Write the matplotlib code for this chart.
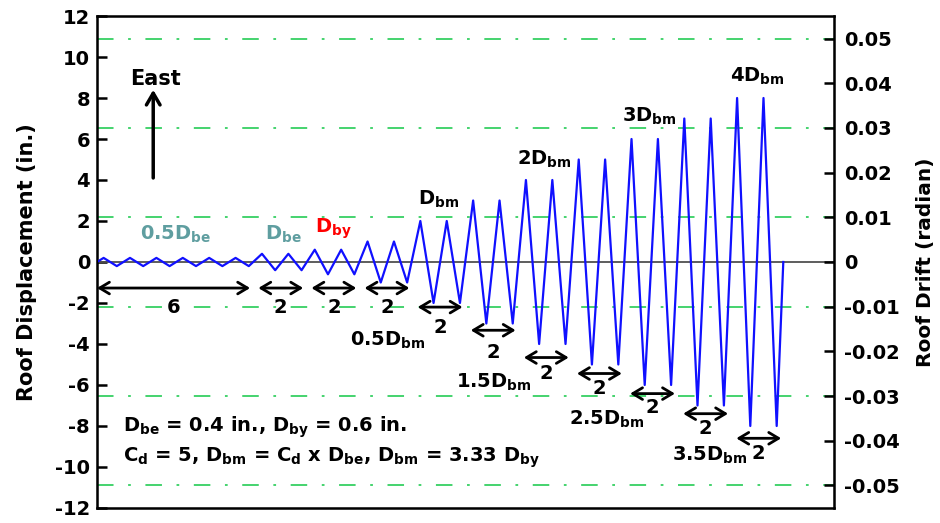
import numpy as np
import matplotlib
matplotlib.use("Agg")
import matplotlib.pyplot as plt

plt.rcParams["font.family"] = ["DejaVu Sans"]
plt.rcParams["font.weight"] = "bold"
plt.rcParams["mathtext.fontset"] = "dejavusans"
plt.rcParams["mathtext.default"] = "bf"

# loading protocol: amplitude steps (in.) and number of cycles per step
step_names = ["0.5$D_{be}$", "$D_{be}$", "$D_{by}$", "0.5$D_{bm}$", "$D_{bm}$", "1.5$D_{bm}$",
              "2$D_{bm}$", "2.5$D_{bm}$", "3$D_{bm}$", "3.5$D_{bm}$", "4$D_{bm}$"]
step_amps = [0.2, 0.4, 0.6, 1.0, 2.0, 3.0, 4.0, 5.0, 6.0, 7.0, 8.0]
step_cycles = [6, 2, 2, 2, 2, 2, 2, 2, 2, 2, 2]

roof_height = 218.0  # in.
drift_ticks = [-0.05, -0.04, -0.03, -0.02, -0.01, 0.0, 0.01, 0.02, 0.03, 0.04, 0.05]
drift_lines = [-0.05, -0.03, -0.01, 0.01, 0.03, 0.05]
disp_ticks = [-12, -10, -8, -6, -4, -2, 0, 2, 4, 6, 8, 10, 12]

# build the triangular displacement history
t = [0.0]
d = [0.0]
starts = []
n = 0
for amp, nc in zip(step_amps, step_cycles):
    starts.append(n)
    for i in range(nc):
        t += [n + 0.25, n + 0.75]
        d += [amp, -amp]
        n += 1
t.append(n)
d.append(0.0)

fig = plt.figure(figsize=(9.4, 5.23), dpi=100)
ax = fig.add_axes([0.1032, 0.0287, 0.784, 0.9407])

green = "#44d36e"
for dr in drift_lines:
    ax.axhline(dr * roof_height, color=green, lw=1.4,
               linestyle=(0, (8.5, 7.5, 1.4, 7.5)), zorder=1)
ax.axhline(0, color="#505050", lw=1.3, zorder=2)
ax.plot(t, d, color="#1010ff", lw=1.6, zorder=3)

ax.set_xlim(0, 27.92)
ax.set_ylim(-12, 12)
ax.set_xticks([])
ax.set_yticks(disp_ticks)
ax.set_yticklabels([str(v) for v in disp_ticks])
ax.tick_params(axis="y", direction="in", length=7, width=1.8, pad=5, labelsize=14)
for s in ax.spines.values():
    s.set_linewidth(1.8)
ax.set_ylabel("Roof Displacement (in.)", fontsize=15, fontweight="bold", labelpad=13)

ax2 = ax.twinx()
ax2.set_ylim(-12 / roof_height, 12 / roof_height)
ax2.set_yticks(drift_ticks)
ax2.set_yticklabels(["0" if v == 0 else "%.2f" % v for v in drift_ticks])
ax2.tick_params(axis="y", direction="in", length=7, width=1.8, pad=7, labelsize=14)
ax2.set_ylabel("Roof Drift (radian)", fontsize=14.5, fontweight="bold", labelpad=12)

# step amplitude labels (x, y, colour)
label_pos = [(1.63, 1.07, "#5f9ea0"), (6.36, 1.07, "#5f9ea0"), (8.26, 1.43, "red"),
             (9.58, -4.1, "black"), (12.16, 2.78, "black"), (13.6, -6.15, "black"),
             (15.9, 4.73, "black"), (17.9, -7.95, "black"), (19.9, 6.84, "black"),
             (21.8, -9.7, "black"), (23.98, 8.8, "black")]
for name, (x, y, c) in zip(step_names, label_pos):
    ax.text(x, y, name, color=c, fontsize=14, ha="left", va="baseline", zorder=4)

# cycle-count arrows under each step
arrow_y = [-1.27, -1.27, -1.27, -1.27, -2.2, -3.33, -4.66, -5.44, -6.42, -7.4, -8.6]
count_y = [-2.2, -2.2, -2.2, -2.2, -3.19, -4.41, -5.44, -6.18, -7.1, -8.14, -9.36]
for k, (s0, nc) in enumerate(zip(starts, step_cycles)):
    x0 = s0 + (0.1 if s0 > 0 else 0.0) + 0.012 * k
    x1 = s0 + nc - 0.2 + 0.012 * k
    ax.annotate("", xy=(x1, arrow_y[k]), xytext=(x0, arrow_y[k]),
                arrowprops=dict(arrowstyle="<->,head_length=0.5,head_width=0.3",
                                lw=2, color="black", shrinkA=0, shrinkB=0,
                                mutation_scale=14), zorder=4)
    ax.text((x0 + x1) / 2, count_y[k], str(nc), fontsize=14, ha="center",
            va="center", zorder=4)

# loading direction
ax.annotate("", xy=(2.13, 8.4), xytext=(2.13, 4.1),
            arrowprops=dict(arrowstyle="->,head_length=0.6,head_width=0.35",
                            lw=2.5, color="black", shrinkA=0, shrinkB=0,
                            mutation_scale=14))
ax.text(2.2, 8.65, "East", fontsize=15, ha="center", va="baseline")

ax.text(0.98, -8.3, "$D_{be}$ = 0.4 in., $D_{by}$ = 0.6 in.", fontsize=14,
        ha="left", va="baseline")
ax.text(0.98, -9.75, "$C_d$ = 5, $D_{bm}$ = $C_d$ x $D_{be}$, $D_{bm}$ = 3.33 $D_{by}$",
        fontsize=14, ha="left", va="baseline")

fig.savefig("out.png", dpi=100)
